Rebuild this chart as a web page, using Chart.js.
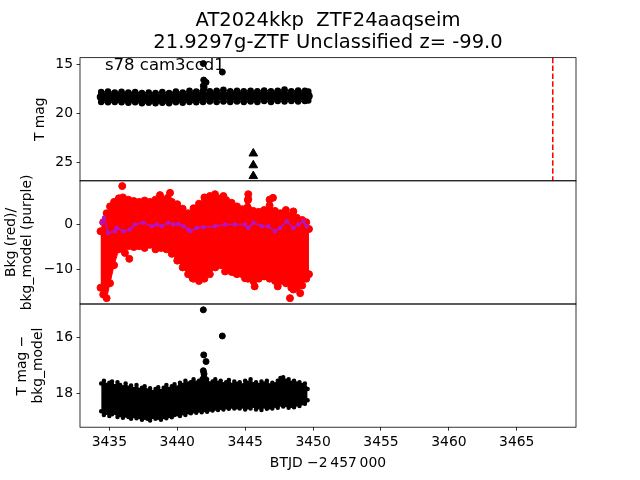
<!DOCTYPE html>
<html>
<head>
<meta charset="utf-8">
<script src="https://cdn.jsdelivr.net/npm/chart.js@4.4.1/dist/chart.umd.min.js"></script>
<style>
  html, body { margin: 0; padding: 0; background: #fff; }
  #fig { position: relative; width: 640px; height: 480px; overflow: hidden; font-family: 'DejaVu Sans', sans-serif; }
  canvas { position: absolute; left: 0; }
  #c1 { top: 0; }
  #c2 { top: 160px; }
  #c3 { top: 285px; }
  .note { position: absolute; left: 105px; top: 57px; font-size: 16.5px; line-height: 16.5px; color: #000; white-space: pre; }
</style>
</head>
<body>
<div id="fig">
  <canvas id="c1" width="640" height="200"></canvas>
  <canvas id="c2" width="640" height="165"></canvas>
  <canvas id="c3" width="640" height="195"></canvas>
  <div class="note">s78 cam3ccd1</div>
</div>
<script>
// axis limits
const X_MIN = 3432.84, X_MAX = 3469.36;
const MAG_RANGE = [14.35, 26.88];
const BKG_RANGE = [-17.6, 9.67];
const DIFF_RANGE = [14.79, 19.22];

// tick labels
const timeTicks = [3435, 3440, 3445, 3450, 3455, 3460, 3465];
const magTicks = [15, 20, 25];
const bkgTicks = [-10, 0];
const diffTicks = [16, 18];

// panel 1: T mag envelope of the dense light curve
const magTime = [3434.4, 3434.9, 3435.4, 3435.9, 3436.4, 3436.9, 3437.4, 3437.9, 3438.4, 3438.9,
  3439.4, 3439.9, 3440.4, 3440.9, 3441.4, 3441.9, 3442.4, 3442.9, 3443.4, 3443.9,
  3444.4, 3444.9, 3445.4, 3445.9, 3446.4, 3446.9, 3447.4, 3447.9, 3448.4, 3448.9, 3449.4, 3449.65];
const magBright = [17.85, 17.8, 17.9, 17.82, 17.9, 17.85, 17.95, 17.9, 17.95, 17.85,
  17.95, 17.8, 17.9, 17.72, 17.8, 17.68, 17.78, 17.72, 17.62, 17.78,
  17.72, 17.78, 17.72, 17.78, 17.68, 17.78, 17.72, 17.58, 17.78, 17.68, 17.72, 17.8];
const magFaint = [18.85, 18.9, 18.85, 18.9, 18.95, 18.9, 19.0, 18.95, 19.0, 18.95,
  19.0, 18.9, 18.95, 18.85, 18.9, 18.85, 18.8, 18.85, 18.8, 18.85,
  18.8, 18.85, 18.8, 18.85, 18.75, 18.85, 18.75, 18.8, 18.75, 18.8, 18.75, 18.7];
const flareTime = [3441.92, 3443.32, 3441.95, 3442.12, 3441.92, 3441.97, 3441.97];
const flareMag = [14.95, 15.82, 16.63, 16.86, 17.2, 17.3, 17.45];
const flareDiff = [15.0, 15.94, 16.62, 16.86, 17.19, 17.3, 17.42];
const limitTime = [3445.6, 3445.6, 3445.6];
const limitMag = [24.1, 25.3, 26.4];
const markerTimes = [3467.65];

// panel 2: background flux envelope, outliers and model
const bkgTime = [3434.35, 3434.55, 3434.8, 3435.05, 3435.35, 3435.7, 3436.0, 3436.4, 3436.8, 3437.2,
  3437.6, 3438.0, 3438.4, 3438.8, 3439.2, 3439.6, 3440.0, 3440.4, 3440.8, 3441.2,
  3441.6, 3442.0, 3442.4, 3442.8, 3443.2, 3443.6, 3444.0, 3444.4, 3444.8, 3445.2,
  3445.6, 3446.0, 3446.4, 3446.8, 3447.2, 3447.6, 3448.0, 3448.4, 3448.8, 3449.2, 3449.5, 3449.7];
const bkgHigh = [-1.5, 0.5, 2.5, 4.0, 5.0, 5.8, 6.0, 5.5, 5.2, 5.0,
  5.3, 5.0, 5.5, 5.8, 5.4, 5.0, 4.5, 3.5, 2.5, 3.6,
  4.6, 6.0, 6.3, 5.6, 5.8, 5.4, 4.8, 4.0, 3.4, 5.4,
  3.0, 2.8, 3.2, 4.2, 3.0, 2.5, 3.2, 2.0, 1.5, 1.0, 0.5, -1.0];
const bkgLow = [-14.0, -15.5, -16.3, -13.0, -9.0, -5.5, -5.0, -4.8, -5.0, -4.8,
  -5.2, -4.5, -5.5, -5.2, -5.5, -6.5, -8.0, -9.5, -11.0, -12.0,
  -12.5, -12.0, -11.0, -9.5, -9.0, -9.5, -10.5, -11.0, -11.0, -12.0,
  -12.5, -12.0, -11.5, -12.0, -12.5, -12.5, -13.0, -14.0, -14.0, -13.5, -12.0, -11.0];
const bkgOutTime = [3435.95, 3436.15, 3436.47, 3438.73, 3439.3, 3439.47, 3440.94, 3441.13, 3442.78, 3443.4,
  3443.52, 3444.25, 3444.99, 3445.23, 3445.23, 3445.7, 3446.8, 3447.05, 3447.4, 3448.3,
  3448.55, 3448.55, 3449.05];
const bkgOutValue = [8.5, -6.3, -7.6, 6.5, 5.9, 7.0, -10.4, -11.9, 6.7, 6.3,
  -10.4, -10.7, -11.9, 6.7, 5.6, -13.7, 5.5, 5.9, -13.7, -16.3,
  2.9, -14.4, -15.2];
const modelTime = [3434.44, 3434.61, 3434.92, 3435.42, 3435.54, 3436.03, 3436.52, 3436.89, 3437.5, 3438.12,
  3438.49, 3438.86, 3439.34, 3439.71, 3440.08, 3440.45, 3440.82, 3440.94, 3441.43, 3441.92,
  3442.78, 3443.52, 3444.25, 3444.99, 3445.23, 3445.6, 3446.22, 3446.71, 3447.2, 3447.57,
  3448.06, 3448.55, 3448.92, 3449.28, 3449.53];
const modelValue = [0.4, 1.5, -1.9, -1.5, -0.8, -1.5, -1.1, 0.0, 0.4, -0.4,
  0.0, -0.4, 0.4, 0.0, 0.1, -0.4, -1.1, -1.5, -0.8, -0.6,
  -0.4, 0.0, 0.0, 0.0, -0.8, 0.4, -0.4, -0.4, -1.5, -0.8,
  0.7, -0.8, 0.0, 0.7, -0.4];

// panel 3: T mag - bkg_model envelope
const diffTime = [3434.4, 3434.6, 3434.8, 3435.0, 3435.2, 3435.4, 3435.6, 3435.8, 3436.0, 3436.2,
  3436.4, 3436.6, 3436.8, 3437.0, 3437.2, 3437.4, 3437.6, 3437.8, 3438.0, 3438.2,
  3438.4, 3438.6, 3438.8, 3439.0, 3439.2, 3439.4, 3439.6, 3439.8, 3440.0, 3440.2,
  3440.4, 3440.6, 3440.8, 3441.0, 3441.2, 3441.4, 3441.6, 3441.8, 3442.0, 3442.2,
  3442.4, 3442.6, 3442.8, 3443.0, 3443.2, 3443.4, 3443.6, 3443.8, 3444.0, 3444.2,
  3444.4, 3444.6, 3444.8, 3445.0, 3445.2, 3445.4, 3445.6, 3445.8, 3446.0, 3446.2,
  3446.4, 3446.6, 3446.8, 3447.0, 3447.2, 3447.4, 3447.6, 3447.8, 3448.0, 3448.2,
  3448.4, 3448.6, 3448.8, 3449.0, 3449.2, 3449.4, 3449.6];
const diffBright = [17.65, 17.55, 17.7, 17.62, 17.58, 17.75, 17.6, 17.7, 17.78, 17.65,
  17.8, 17.72, 17.85, 17.7, 17.88, 17.8, 17.75, 17.9, 17.82, 17.95,
  17.85, 17.78, 17.92, 17.8, 17.7, 17.85, 17.75, 17.68, 17.8, 17.62,
  17.7, 17.55, 17.65, 17.6, 17.5, 17.62, 17.55, 17.48, 17.6, 17.5,
  17.65, 17.58, 17.5, 17.62, 17.55, 17.68, 17.6, 17.52, 17.7, 17.58,
  17.66, 17.6, 17.72, 17.55, 17.62, 17.5, 17.68, 17.6, 17.7, 17.58,
  17.65, 17.55, 17.72, 17.62, 17.68, 17.55, 17.45, 17.42, 17.55, 17.5,
  17.62, 17.55, 17.65, 17.6, 17.7, 17.65, 17.85];
const diffFaint = [18.65, 18.78, 18.7, 18.82, 18.75, 18.7, 18.85, 18.78, 18.88, 18.8,
  18.85, 18.92, 18.82, 18.9, 18.85, 18.95, 18.88, 18.92, 18.98, 18.85,
  18.92, 18.88, 18.95, 18.85, 18.9, 18.82, 18.86, 18.78, 18.75, 18.82,
  18.72, 18.78, 18.68, 18.72, 18.65, 18.7, 18.62, 18.68, 18.6, 18.66,
  18.58, 18.62, 18.55, 18.6, 18.52, 18.58, 18.5, 18.56, 18.48, 18.55,
  18.5, 18.55, 18.48, 18.58, 18.5, 18.55, 18.45, 18.58, 18.5, 18.6,
  18.48, 18.56, 18.5, 18.55, 18.45, 18.52, 18.4, 18.48, 18.42, 18.52,
  18.45, 18.5, 18.4, 18.46, 18.36, 18.38, 18.25];

Chart.defaults.font.family = "'DejaVu Sans', sans-serif";
Chart.defaults.font.size = 13.9;
Chart.defaults.color = '#000';

const pairs = (xs, ys) => xs.map((x, i) => ({ x: x, y: ys[i] }));
const middle = (lo, hi) => lo.map((v, i) => (v + hi[i]) / 2);
const minus = v => (v < 0 ? '\u2212' + Math.abs(v) : String(v));

// matplotlib-like frame round the axes
const framePlugin = {
  id: 'frame',
  afterDatasetsDraw(chart) {
    const { ctx, chartArea: a } = chart;
    ctx.save();
    ctx.strokeStyle = '#000';
    ctx.lineWidth = 0.8;
    ctx.strokeRect(a.left, a.top, a.right - a.left, a.bottom - a.top);
    ctx.restore();
  }
};

const tickGrid = { drawOnChartArea: false, drawTicks: true, tickLength: 3.5, tickWidth: 0.8, tickColor: '#000' };

function timeScale(show) {
  return {
    type: 'linear', min: X_MIN, max: X_MAX, display: show,
    afterBuildTicks: s => { s.ticks = timeTicks.map(v => ({ value: v })); },
    afterFit: show ? s => { s.height = 52.8; } : undefined,
    grid: tickGrid,
    border: { display: false },
    ticks: { padding: 3.5, maxRotation: 0, autoSkip: false, callback: v => String(v) },
    title: { display: show, text: 'BTJD \u22122\u2009457\u2009000', padding: { top: 0, bottom: 8.5 } }
  };
}

function valueScale(range, reverse, ticks, title, titlePad) {
  return {
    type: 'linear', position: 'left', min: range[0], max: range[1], reverse: reverse,
    afterBuildTicks: s => { s.ticks = ticks.map(v => ({ value: v })); },
    afterFit: s => { s.width = 80; },
    grid: tickGrid,
    border: { display: false },
    ticks: { padding: 3.5, callback: minus },
    title: { display: true, text: title, padding: { top: titlePad, bottom: 0 } }
  };
}

function baseOptions(padding, yScale, showX) {
  return {
    responsive: false, animation: false, devicePixelRatio: 1, events: [],
    layout: { padding: padding },
    plugins: { legend: { display: false }, tooltip: { enabled: false } },
    elements: { line: { tension: 0 } },
    scales: { x: timeScale(showX), y: yScale }
  };
}

// Panel 1: T mag
const opt1 = baseOptions({ top: 0, bottom: 19.2, left: 0, right: 64 },
  valueScale(MAG_RANGE, true, magTicks, 'T mag', 31.6), false);
opt1.plugins.title = {
  display: true, fullSize: false,
  text: ['AT2024kkp  ZTF24aaqseim', '21.9297g-ZTF Unclassified z= -99.0'],
  font: { size: 19.5, weight: 'normal', lineHeight: 1.15 },
  padding: { top: 9.3, bottom: 3.5 }, color: '#000'
};
new Chart(document.getElementById('c1'), {
  type: 'line',
  data: {
    datasets: [
      // thick core of the band, error bars overlap into a solid strip
      { data: pairs(magTime, middle(magBright, magFaint)), borderColor: '#000', borderWidth: 9,
        borderJoinStyle: 'round', borderCapStyle: 'round', pointRadius: 0, fill: false, order: 3 },
      { data: pairs(magTime, magFaint), borderColor: '#000', backgroundColor: '#000', borderWidth: 1.5, pointRadius: 2.5, fill: false, order: 2 },
      { data: pairs(magTime, magBright), borderColor: '#000', backgroundColor: '#000', borderWidth: 1.5, pointRadius: 2.5, fill: false, order: 2 },
      { data: pairs(flareTime, flareMag), showLine: false, backgroundColor: '#000', borderColor: '#000', pointRadius: 3, order: 1 },
      { data: pairs(limitTime, limitMag), showLine: false, pointStyle: 'triangle', backgroundColor: '#000', borderColor: '#000', pointRadius: 5, order: 1 },
      { data: [{ x: markerTimes[0], y: MAG_RANGE[0] }, { x: markerTimes[0], y: MAG_RANGE[1] }],
        borderColor: '#ff0000', borderWidth: 1.5, borderDash: [5.5, 2.4], pointRadius: 0, fill: false, order: 0 }
    ]
  },
  options: opt1,
  plugins: [framePlugin]
});

// Panel 2: background and its model (model drawn on top via order)
new Chart(document.getElementById('c2'), {
  type: 'line',
  data: {
    datasets: [
      { data: pairs(bkgTime, bkgLow), borderColor: '#ff0000', backgroundColor: '#ff0000', borderWidth: 1, pointRadius: 3.5, fill: false, order: 2 },
      { data: pairs(bkgTime, bkgHigh), borderColor: '#ff0000', backgroundColor: '#ff0000', borderWidth: 1, pointRadius: 3.5, fill: '-1', order: 2 },
      { data: pairs(bkgOutTime, bkgOutValue), showLine: false, backgroundColor: '#ff0000', borderColor: '#ff0000', pointRadius: 3.5, order: 2 },
      { data: pairs(modelTime, modelValue), borderColor: '#b414c8', backgroundColor: '#b414c8', borderWidth: 1.5, pointRadius: 1.5, fill: false, order: 0 }
    ]
  },
  options: baseOptions({ top: 20.8, bottom: 21, left: 0, right: 64 },
    valueScale(BKG_RANGE, false, bkgTicks, ['Bkg (red)/', 'bkg_model (purple)'], 2.6), false),
  plugins: [framePlugin]
});

// Panel 3: T mag - bkg_model
new Chart(document.getElementById('c3'), {
  type: 'line',
  data: {
    datasets: [
      { data: pairs(diffTime, diffFaint), borderColor: '#000', backgroundColor: '#000', borderWidth: 1.5, pointRadius: 1.5, fill: false },
      { data: pairs(diffTime, diffBright), borderColor: '#000', backgroundColor: '#000', borderWidth: 1.5, pointRadius: 1.5, fill: '-1' },
      { data: pairs(flareTime, flareDiff), showLine: false, backgroundColor: '#000', borderColor: '#000', pointRadius: 3 }
    ]
  },
  options: baseOptions({ top: 19, bottom: 0, left: 0, right: 64 },
    valueScale(DIFF_RANGE, true, diffTicks, ['T mag \u2212', 'bkg_model'], 13.6), true),
  plugins: [framePlugin]
});
</script>
</body>
</html>
